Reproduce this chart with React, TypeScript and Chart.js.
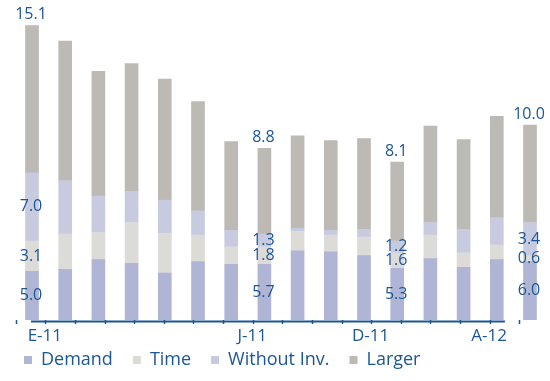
import { useEffect, useRef } from 'react';
import { Chart, registerables } from 'chart.js';

Chart.register(...registerables);

// Monthly periods; only a few are labelled on the axis
const axisLabels = ['E-11', '', '', '', '', '', '', 'J-11', '', '', '', 'D-11', '', '', '', 'A-12'];

const demand = [5.0, 5.2, 6.2, 5.8, 4.8, 6.0, 5.7, 5.7, 7.1, 7.0, 6.6, 5.3, 6.3, 5.4, 6.2, 6.0];
const time = [3.1, 3.6, 2.8, 4.2, 4.1, 2.7, 1.8, 1.8, 2.0, 1.7, 1.9, 1.6, 2.4, 1.5, 1.5, 0.6];
const withoutInv = [7.0, 5.5, 3.7, 3.2, 3.4, 2.5, 1.7, 1.3, 0.3, 0.5, 0.8, 1.2, 1.3, 2.4, 2.8, 3.4];
const larger = [15.1, 14.3, 12.8, 13.1, 12.4, 11.2, 9.1, 8.8, 9.5, 9.2, 9.3, 8.1, 9.9, 9.2, 10.4, 10.0];

// Bars that carry value labels
const labelledBars = [0, 7, 11, 15];

const seriesNames = ['Demand', 'Time', 'Without Inv.', 'Larger'];
const seriesColors = ['#b1b5d5', '#dcdbd8', '#c8cae0', '#bdb9b5'];

const BLUE = '#1b5696';
const FONT = "'Open Sans', 'Liberation Sans', sans-serif";

const valueLabels = {
  id: 'valueLabels',
  afterDatasetsDraw(chart: any) {
    const ctx = chart.ctx;
    ctx.save();
    ctx.fillStyle = BLUE;
    ctx.font = `16px ${FONT}`;
    ctx.textAlign = 'center';
    ctx.textBaseline = 'middle';
    chart.data.datasets.forEach((ds: any, di: number) => {
      const meta = chart.getDatasetMeta(di);
      labelledBars.forEach((i) => {
        const bar = meta.data[i];
        if (!bar) return;
        const v = ds.data[i] as number;
        const text = v.toFixed(1);
        const y = di === 3 ? bar.y - 11 : (bar.y + bar.base) / 2;
        ctx.fillText(text, bar.x - 1, y);
      });
    });
    ctx.restore();
  },
};

// Axis line spanning the 16 monthly intervals, plus the period labels centred in them
const periodAxis = {
  id: 'periodAxis',
  afterDatasetsDraw(chart: any) {
    const s = chart.scales.x2;
    const ctx = chart.ctx;
    const y = chart.chartArea.bottom + 1.5;
    ctx.save();
    ctx.strokeStyle = BLUE;
    ctx.lineWidth = 2;
    ctx.beginPath();
    ctx.moveTo(s.getPixelForValue(0), y);
    ctx.lineTo(s.getPixelForValue(axisLabels.length), y);
    ctx.stroke();

    ctx.fillStyle = BLUE;
    ctx.font = `17px ${FONT}`;
    ctx.textAlign = 'center';
    ctx.textBaseline = 'alphabetic';
    axisLabels.forEach((t, i) => {
      if (!t) return;
      ctx.fillText(t, s.getPixelForValue(i + 0.5) - 1, chart.chartArea.bottom + 21);
    });
    ctx.restore();
  },
};

export default function App() {
  const ref = useRef<HTMLCanvasElement>(null);

  useEffect(() => {
    if (!ref.current) return;
    const series = [demand, time, withoutInv, larger];
    const chart = new Chart(ref.current, {
      type: 'bar',
      data: {
        labels: axisLabels,
        datasets: series.map((d, i) => ({
          label: seriesNames[i],
          data: d,
          backgroundColor: seriesColors[i],
          borderWidth: 0,
          barThickness: 13,
          xAxisID: 'x',
          yAxisID: 'y',
        })),
      },
      options: {
        responsive: false,
        animation: false,
        layout: { padding: { left: 4, right: 3.4, top: 8, bottom: 2 } },
        plugins: {
          tooltip: { enabled: false },
          legend: {
            position: 'bottom',
            align: 'start',
            labels: {
              boxWidth: 8,
              boxHeight: 8,
              padding: 20,
              color: BLUE,
              font: { family: FONT, size: 18 },
            },
          },
        },
        scales: {
          x: {
            type: 'category',
            stacked: true,
            display: false,
          },
          x2: {
            type: 'linear',
            position: 'bottom',
            min: 0,
            max: 16.88,
            border: { display: false },
            grid: {
              drawOnChartArea: false,
              drawTicks: true,
              tickLength: 4,
              tickWidth: 1.5,
              tickColor: BLUE,
            },
            ticks: {
              stepSize: 1,
              includeBounds: false,
              autoSkip: false,
              display: false,
            },
            afterFit: (s: any) => {
              s.height = 11;
            },
          },
          y: {
            stacked: true,
            min: 0,
            max: 32,
            ticks: { display: false },
            grid: { display: false },
            border: { display: false },
            afterFit: (s: any) => {
              s.width = 11.4;
            },
          },
        },
      },
      plugins: [valueLabels, periodAxis],
    });
    return () => chart.destroy();
  }, []);

  return (
    <div style={{ position: 'absolute', left: 0, top: 0, width: 550, height: 381, background: '#fff' }}>
      <canvas ref={ref} width={550} height={381} />
    </div>
  );
}
